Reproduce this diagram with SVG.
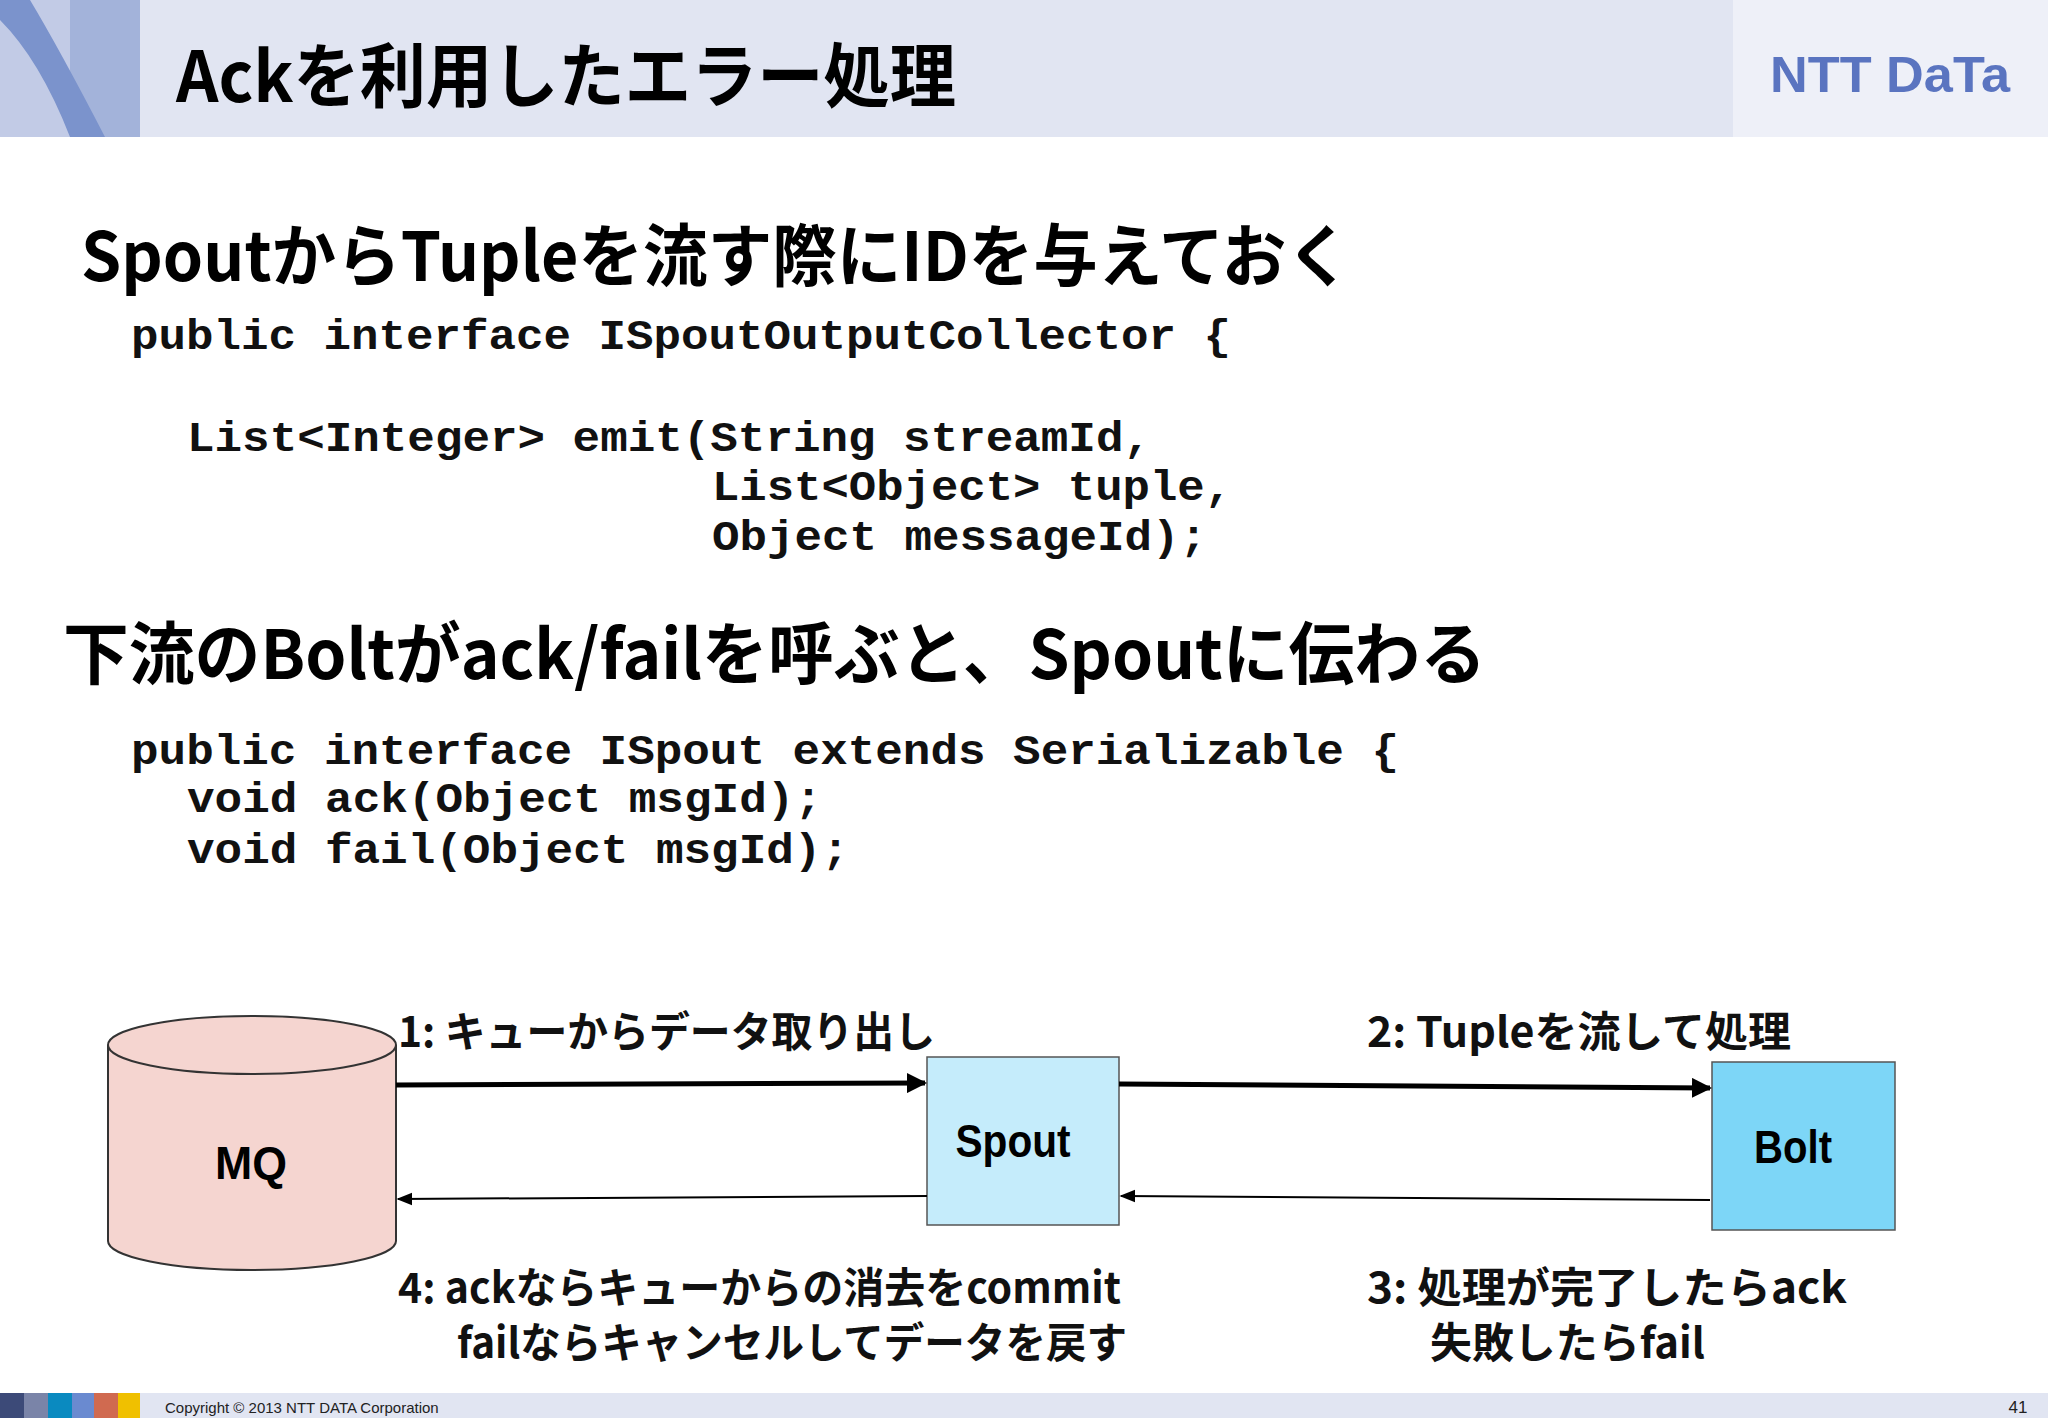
<svg xmlns="http://www.w3.org/2000/svg" width="2048" height="1418" viewBox="0 0 2048 1418">
<defs>
<style>
.h{font-family:"Noto Sans CJK JP","Liberation Sans",sans-serif;font-weight:bold;fill:#000}
.c{font-family:"Liberation Mono","DejaVu Sans Mono",monospace;font-weight:bold;font-size:43px;fill:#111}
.l{font-family:"Noto Sans CJK JP","Liberation Sans",sans-serif;font-weight:bold;font-size:42px;fill:#111}
.n{font-family:"Liberation Sans",sans-serif;font-size:46px;fill:#000}
</style>
<marker id="a" viewBox="0 0 10 10" refX="9" refY="5" markerWidth="4" markerHeight="4" orient="auto"><path d="M0,0L10,5L0,10z" fill="#000"/></marker>
<marker id="b" viewBox="0 0 10 10" refX="9" refY="5" markerWidth="8" markerHeight="8" orient="auto"><path d="M0,1L10,5L0,9z" fill="#000"/></marker>
</defs>
<rect width="2048" height="1418" fill="#fff"/>
<rect width="2048" height="137" fill="#e1e5f2"/>
<rect x="1733" width="315" height="137" fill="#eef0f8"/>
<rect width="140" height="137" fill="#c2cbe6"/>
<rect x="70" width="70" height="137" fill="#a3b3da"/>
<path d="M0,0 L30,0 Q60,50 105,137 L70,137 Q40,60 0,20z" fill="#7b93cc"/>
<text class="h" x="176" y="102" font-size="70" textLength="780" lengthAdjust="spacingAndGlyphs">Ackを利用したエラー処理</text>
<text x="1770" y="92" font-family="Liberation Sans,sans-serif" font-weight="bold" font-size="50" fill="#5a74c0" textLength="240" lengthAdjust="spacingAndGlyphs">NTT DaTa</text>
<text class="h" x="81" y="281" font-size="68" textLength="1270" lengthAdjust="spacingAndGlyphs">SpoutからTupleを流す際にIDを与えておく</text>
<text class="c" x="131" y="349" textLength="1100" lengthAdjust="spacingAndGlyphs">public interface ISpoutOutputCollector {</text>
<text class="c" x="187" y="451" textLength="964" lengthAdjust="spacingAndGlyphs">List&lt;Integer&gt; emit(String streamId,</text>
<text class="c" x="712" y="500" textLength="520" lengthAdjust="spacingAndGlyphs">List&lt;Object&gt; tuple,</text>
<text class="c" x="712" y="550" textLength="495" lengthAdjust="spacingAndGlyphs">Object messageId);</text>
<text class="h" x="63" y="679" font-size="68" textLength="1423" lengthAdjust="spacingAndGlyphs">下流のBoltがack/failを呼ぶと、Spoutに伝わる</text>
<text class="c" x="131" y="764" textLength="1268" lengthAdjust="spacingAndGlyphs">public interface ISpout extends Serializable {</text>
<text class="c" x="187" y="812" textLength="635" lengthAdjust="spacingAndGlyphs">void ack(Object msgId);</text>
<text class="c" x="187" y="863" textLength="662" lengthAdjust="spacingAndGlyphs">void fail(Object msgId);</text>
<g id="mq">
<path d="M108,1045 L108,1241 A144,29 0 0 0 396,1241 L396,1045" fill="#f5d5d0" stroke="#333" stroke-width="2"/>
<ellipse cx="252" cy="1045" rx="144" ry="29" fill="#f5d5d0" stroke="#333" stroke-width="2"/>
<text class="n" x="251" y="1179" text-anchor="middle" font-weight="bold" textLength="72" lengthAdjust="spacingAndGlyphs">MQ</text>
</g>
<g id="spout">
<rect x="927" y="1057" width="192" height="168" fill="#c5ecfb" stroke="#555" stroke-width="1.5"/>
<text class="n" x="1013" y="1157" text-anchor="middle" font-weight="bold" textLength="115" lengthAdjust="spacingAndGlyphs">Spout</text>
</g>
<g id="bolt">
<rect x="1712" y="1062" width="183" height="168" fill="#7dd6f7" stroke="#555" stroke-width="1.5"/>
<text class="n" x="1793" y="1163" text-anchor="middle" font-weight="bold" textLength="78" lengthAdjust="spacingAndGlyphs">Bolt</text>
</g>
<g id="connectors" stroke="#000" fill="none">
<line x1="396" y1="1085" x2="925" y2="1083" stroke-width="5" marker-end="url(#a)"/>
<line x1="1119" y1="1084" x2="1710" y2="1088" stroke-width="5" marker-end="url(#a)"/>
<line x1="927" y1="1196" x2="398" y2="1199" stroke-width="2" marker-end="url(#b)"/>
<line x1="1710" y1="1200" x2="1121" y2="1196" stroke-width="2" marker-end="url(#b)"/>
</g>
<text class="l" x="398" y="1047" textLength="537" lengthAdjust="spacingAndGlyphs">1: キューからデータ取り出し</text>
<text class="l" x="1367" y="1047" textLength="424" lengthAdjust="spacingAndGlyphs">2: Tupleを流して処理</text>
<text class="l" x="398" y="1303" textLength="723" lengthAdjust="spacingAndGlyphs">4: ackならキューからの消去をcommit</text>
<text class="l" x="457" y="1358" textLength="670" lengthAdjust="spacingAndGlyphs">failならキャンセルしてデータを戻す</text>
<text class="l" x="1367" y="1303" textLength="480" lengthAdjust="spacingAndGlyphs">3: 処理が完了したらack</text>
<text class="l" x="1430" y="1358" textLength="275" lengthAdjust="spacingAndGlyphs">失敗したらfail</text>
<rect y="1393" width="2048" height="25" fill="#e1e5f2"/>
<rect x="0" y="1393" width="24" height="25" fill="#3c4a78"/>
<rect x="24" y="1393" width="24" height="25" fill="#7a84a8"/>
<rect x="48" y="1393" width="24" height="25" fill="#0a8ac0"/>
<rect x="72" y="1393" width="22" height="25" fill="#6a8ad0"/>
<rect x="94" y="1393" width="24" height="25" fill="#d06a50"/>
<rect x="118" y="1393" width="22" height="25" fill="#f0c000"/>
<text x="165" y="1413" font-family="Liberation Sans,sans-serif" font-size="15" fill="#222">Copyright © 2013 NTT DATA Corporation</text>
<text x="2018" y="1413" font-family="Liberation Sans,sans-serif" font-size="17" fill="#222" text-anchor="middle">41</text>
</svg>
